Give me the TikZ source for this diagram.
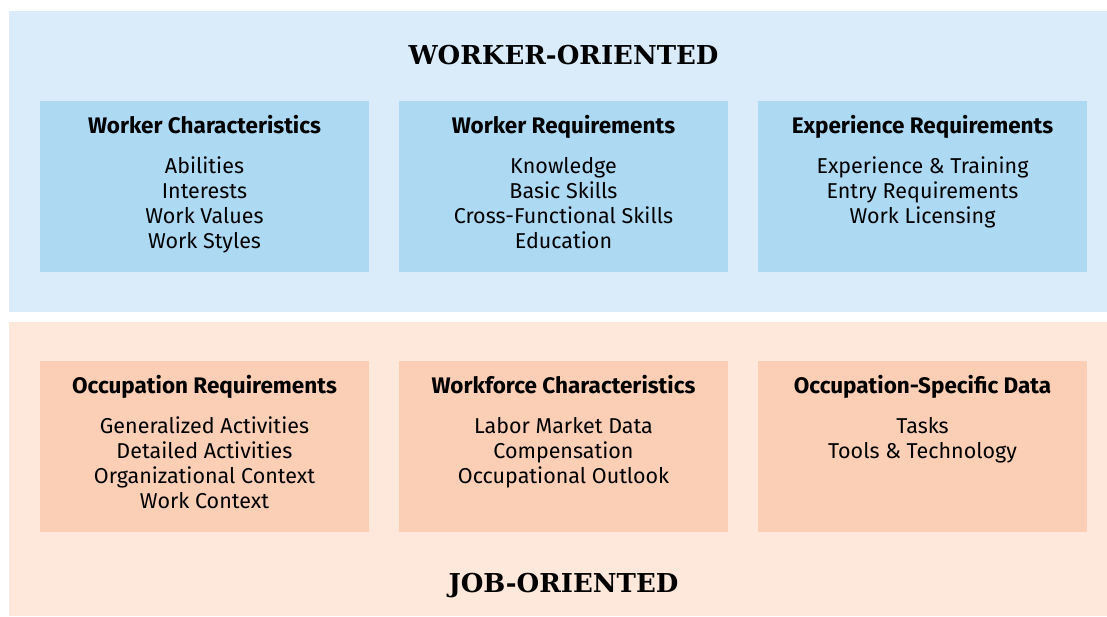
\documentclass[tikz,border=0pt]{standalone}
\usepackage{fontspec}
\setmainfont{Fira Sans}
\newfontfamily\titlefont{DejaVu Serif}
\definecolor{bluepanel}{HTML}{DAECF9}
\definecolor{bluebox}{HTML}{ADD9F3}
\definecolor{peachpanel}{HTML}{FEE7DB}
\definecolor{peachbox}{HTML}{FBCEB6}
\tikzset{
  panel/.style={draw=none, inner sep=0pt, outer sep=0pt, minimum width=1098pt, anchor=north west},
  cat/.style={draw=none, inner sep=0pt, outer sep=0pt, minimum width=329pt, minimum height=171pt, anchor=north west},
  head/.style={anchor=base, inner sep=0pt, font=\fontsize{22.5}{26}\selectfont\bfseries},
  items/.style={anchor=north, inner sep=0pt, align=center, font=\fontsize{21.5}{25}\selectfont},
  title/.style={anchor=base, inner sep=0pt, font=\fontsize{26}{30}\titlefont\bfseries},
}
\begin{document}
\begin{tikzpicture}[x=1pt,y=-1pt]
\useasboundingbox (0,0) rectangle (1107,616);
\fill[white] (0,0) rectangle (1107,616);
% panels
\node[panel, fill=bluepanel, minimum height=300.5pt] (top) at (9,11) {};
\node[panel, fill=peachpanel, minimum height=294pt] (bottom) at (9,322) {};
\node[title] (ttop) at (563.5,64) {WORKER-ORIENTED};
\node[title] (tbot) at (563.5,592) {JOB-ORIENTED};
% top row
\node[cat, fill=bluebox] (wc) at (40,101) {};
\node[cat, fill=bluebox] (wr) at (399,101) {};
\node[cat, fill=bluebox] (er) at (758,101) {};
\node[head] (wch) at (204.5,133) {Worker Characteristics};
\node[head] (wrh) at (563.5,133) {Worker Requirements};
\node[head] (erh) at (922.5,133) {Experience Requirements};
\node[items] (wci) at (204.5,157) {Abilities\\Interests\\Work Values\\Work Styles};
\node[items] (wri) at (563.5,157) {Knowledge\\Basic Skills\\Cross-Functional Skills\\Education};
\node[items] (eri) at (922.5,157) {Experience \& Training\\Entry Requirements\\Work Licensing};
% bottom row
\node[cat, fill=peachbox] (or) at (40,361) {};
\node[cat, fill=peachbox] (wf) at (399,361) {};
\node[cat, fill=peachbox] (os) at (758,361) {};
\node[head] (orh) at (204.5,393) {Occupation Requirements};
\node[head] (wfh) at (563.5,393) {Workforce Characteristics};
\node[head] (osh) at (922.5,393) {Occupation-Specific Data};
\node[items] (ori) at (204.5,417) {Generalized Activities\\Detailed Activities\\Organizational Context\\Work Context};
\node[items] (wfi) at (563.5,417) {Labor Market Data\\Compensation\\Occupational Outlook};
\node[items] (osi) at (922.5,417) {Tasks\\Tools \& Technology};
\end{tikzpicture}
\end{document}
